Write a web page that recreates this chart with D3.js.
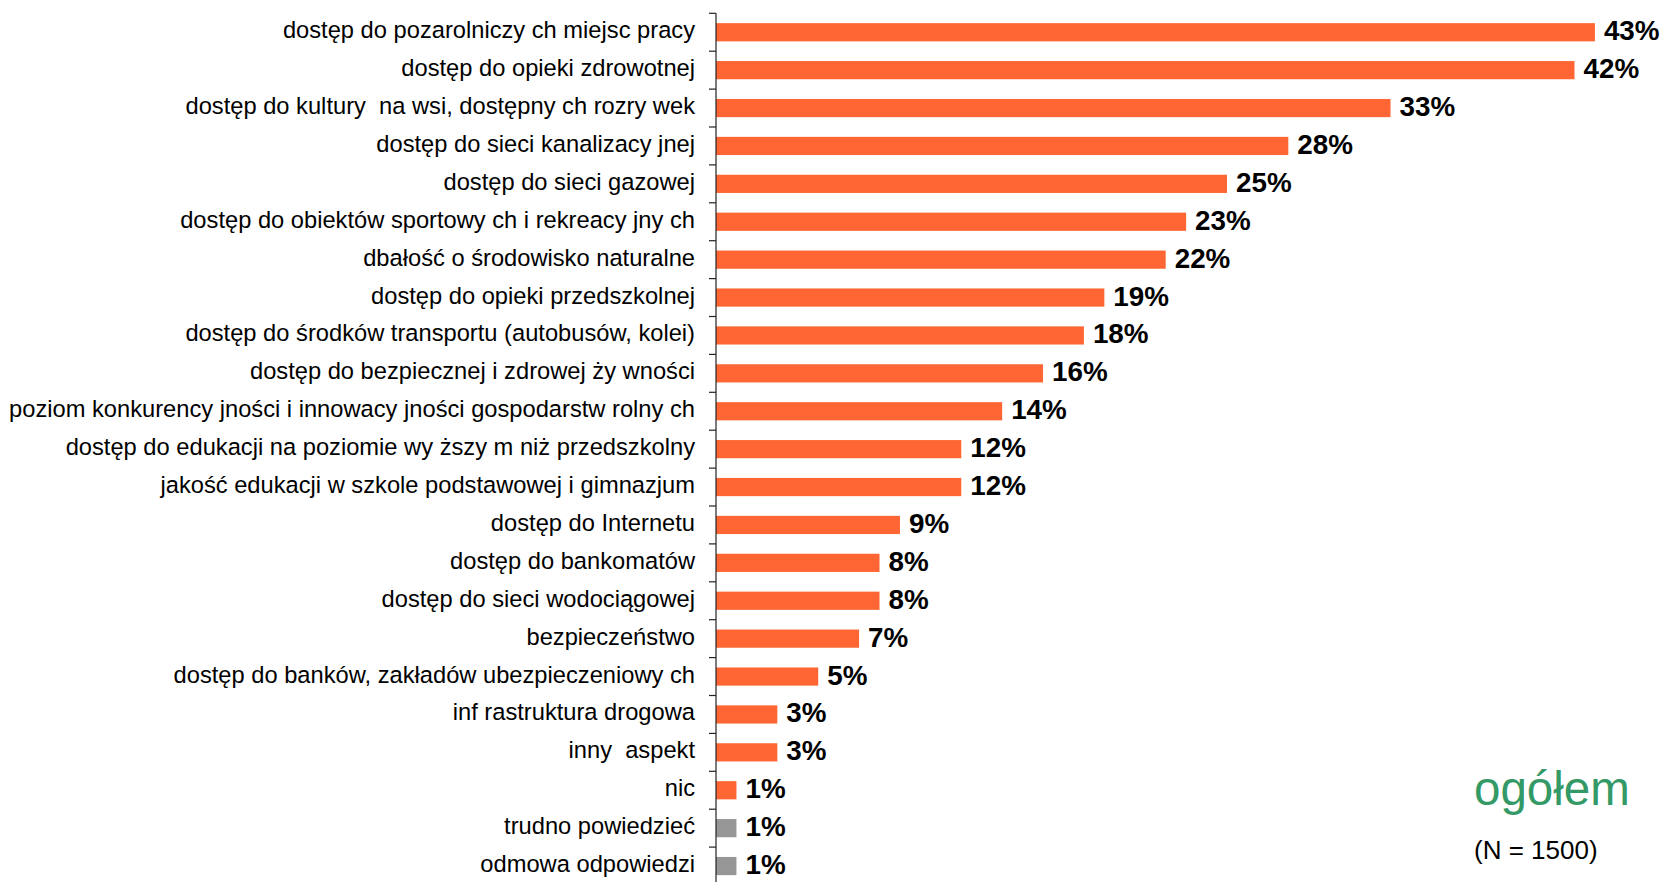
<!DOCTYPE html>
<html>
<head>
<meta charset="utf-8">
<script src="https://cdn.jsdelivr.net/npm/d3@7"></script>
<style>
  html, body { margin: 0; padding: 0; background: #fff; }
  svg { display: block; }
  text { white-space: pre; }
</style>
</head>
<body>
<svg width="1666" height="882"></svg>
<script>
// kategorie odpowiedzi (od góry do dołu)
const categories = [
  "dostęp do pozarolniczy ch miejsc pracy",
  "dostęp do opieki zdrowotnej",
  "dostęp do kultury  na wsi, dostępny ch rozry wek",
  "dostęp do sieci kanalizacy jnej",
  "dostęp do sieci gazowej",
  "dostęp do obiektów sportowy ch i rekreacy jny ch",
  "dbałość o środowisko naturalne",
  "dostęp do opieki przedszkolnej",
  "dostęp do środków transportu (autobusów, kolei)",
  "dostęp do bezpiecznej i zdrowej ży wności",
  "poziom konkurency jności i innowacy jności gospodarstw rolny ch",
  "dostęp do edukacji na poziomie wy ższy m niż przedszkolny",
  "jakość edukacji w szkole podstawowej i gimnazjum",
  "dostęp do Internetu",
  "dostęp do bankomatów",
  "dostęp do sieci wodociągowej",
  "bezpieczeństwo",
  "dostęp do banków, zakładów ubezpieczeniowy ch",
  "inf rastruktura drogowa",
  "inny  aspekt",
  "nic",
  "trudno powiedzieć",
  "odmowa odpowiedzi",
];
// odsetki (%)
const values = [43, 42, 33, 28, 25, 23, 22, 19, 18, 16, 14, 12, 12, 9, 8, 8, 7, 5, 3, 3, 1, 1, 1];
// odpowiedzi "brak zdania" - szare słupki
const noOpinion = ["trudno powiedzieć", "odmowa odpowiedzi"];

const title = "ogółem";
const sampleNote = "(N = 1500)";

const svg = d3.select("svg");
const W = 1666, H = 882;
const axisX = 716;

const x = d3.scaleLinear().domain([0, 45]).range([axisX, axisX + 45 * 20.44]);

const inner = 0.52;
const y = d3.scaleBand()
  .domain(categories)
  .range([13.3, 13.3 + 23 * 37.9])
  .paddingInner(inner)
  .paddingOuter(inner / 2);

const data = categories.map((c, i) => ({ cat: c, val: values[i] }));

//słupki
svg.selectAll("rect.bar")
  .data(data)
  .enter()
  .append("rect")
  .attr("class", "bar")
  .attr("x", x(0))
  .attr("y", (d) => y(d.cat))
  .attr("width", (d) => x(d.val) - x(0))
  .attr("height", y.bandwidth())
  .attr("fill", (d) => (noOpinion.includes(d.cat) ? "#969696" : "#FF6633"));

//etykiety kategorii
svg.selectAll("text.cat")
  .data(data)
  .enter()
  .append("text")
  .attr("class", "cat")
  .attr("x", axisX - 21)
  .attr("y", (d) => y(d.cat) + y.bandwidth() / 2 + 6)
  .attr("text-anchor", "end")
  .attr("font-family", "'Liberation Sans', Arial, sans-serif")
  .attr("font-size", "23.7px")
  .attr("fill", "#000")
  .text((d) => d.cat);

//wartości
svg.selectAll("text.val")
  .data(data)
  .enter()
  .append("text")
  .attr("class", "val")
  .attr("x", (d) => x(d.val) + 9)
  .attr("y", (d) => y(d.cat) + y.bandwidth() / 2 + 8)
  .attr("font-family", "'Liberation Sans', Arial, sans-serif")
  .attr("font-size", "27.8px")
  .attr("font-weight", "bold")
  .attr("fill", "#000")
  .text((d) => d.val + "%");

//oś kategorii z kreskami na granicach pasm
const step = y.step();
const tickYs = categories.map((c) => y(c) - (step - y.bandwidth()) / 2);
tickYs.push(tickYs[tickYs.length - 1] + step);

svg.append("line")
  .attr("x1", axisX).attr("x2", axisX)
  .attr("y1", tickYs[0]).attr("y2", H)
  .attr("stroke", "#222")
  .attr("stroke-width", 1.2);

svg.selectAll("line.tick")
  .data(tickYs)
  .enter()
  .append("line")
  .attr("class", "tick")
  .attr("x1", axisX - 7).attr("x2", axisX)
  .attr("y1", (d) => d).attr("y2", (d) => d)
  .attr("stroke", "#222")
  .attr("stroke-width", 1.2);

//opis próby
svg.append("text")
  .attr("x", 1474)
  .attr("y", 805)
  .attr("font-family", "'Liberation Sans', Arial, sans-serif")
  .attr("font-size", "47.5px")
  .attr("fill", "#339966")
  .text(title);

svg.append("text")
  .attr("x", 1474)
  .attr("y", 859)
  .attr("font-family", "'Liberation Sans', Arial, sans-serif")
  .attr("font-size", "26px")
  .attr("fill", "#000")
  .text(sampleNote);
</script>
</body>
</html>
